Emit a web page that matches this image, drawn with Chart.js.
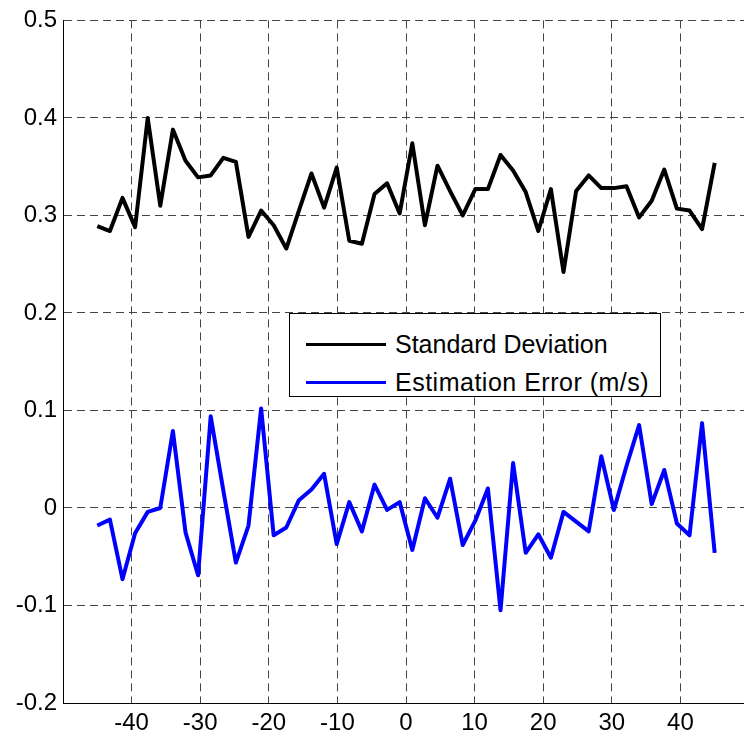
<!DOCTYPE html>
<html><head><meta charset="utf-8">
<script src="https://cdn.jsdelivr.net/npm/chart.js@4/dist/chart.umd.min.js"></script>
<style>
html,body{margin:0;padding:0;overflow:hidden;background:#fff;width:744px;height:740px}
#wrap{position:relative;width:752px;height:740px}
#legend{position:absolute;left:289px;top:313px;width:370px;height:82px;border:1px solid #000;background:#fff;font-family:"Liberation Sans",Arial,sans-serif;font-size:25px;color:#000}
.row{position:absolute;left:0;height:30px;display:flex;align-items:center;white-space:nowrap}
.sw{display:inline-block;width:80px;height:3px;margin-left:16px;margin-right:9px}
</style></head><body>
<div id="wrap"><canvas id="c" width="752" height="740"></canvas><div id="legend"></div></div>
<script>
const xValues = [-45.00,-43.16,-41.33,-39.49,-37.65,-35.82,-33.98,-32.14,-30.31,-28.47,-26.63,-24.80,-22.96,-21.12,-19.29,-17.45,-15.61,-13.78,-11.94,-10.10,-8.27,-6.43,-4.59,-2.76,-0.92,0.92,2.76,4.59,6.43,8.27,10.10,11.94,13.78,15.61,17.45,19.29,21.12,22.96,24.80,26.63,28.47,30.31,32.14,33.98,35.82,37.65,39.49,41.33,43.16,45.00];
const stdDev = [0.289,0.284,0.318,0.288,0.400,0.310,0.388,0.356,0.339,0.341,0.359,0.355,0.278,0.305,0.290,0.266,0.305,0.343,0.308,0.349,0.274,0.271,0.322,0.333,0.302,0.374,0.290,0.351,0.325,0.300,0.327,0.327,0.362,0.346,0.324,0.284,0.327,0.242,0.325,0.341,0.328,0.328,0.330,0.298,0.315,0.347,0.307,0.305,0.286,0.354];
const estError = [-0.018,-0.012,-0.073,-0.026,-0.004,0.000,0.079,-0.025,-0.069,0.094,0.018,-0.056,-0.018,0.102,-0.028,-0.020,0.008,0.019,0.035,-0.037,0.006,-0.024,0.024,-0.002,0.006,-0.043,0.010,-0.010,0.030,-0.038,-0.013,0.020,-0.105,0.046,-0.046,-0.027,-0.051,-0.004,-0.014,-0.024,0.053,-0.002,0.043,0.085,0.004,0.039,-0.016,-0.028,0.087,-0.046];
const seriesNames = ['Standard Deviation','Estimation Error (m/s)'];
const seriesColors = ['#000000','#0000ff'];
const xTicks = [-40,-30,-20,-10,0,10,20,30,40];
const yTicks = [-0.2,-0.1,0,0.1,0.2,0.3,0.4,0.5];
const yTickLabels = ['-0.2','-0.1','0','0.1','0.2','0.3','0.4','0.5'];

const toPts = arr => arr.map((v,i)=>({x:xValues[i], y:v}));
const FONT = {family:'"Liberation Sans", Arial, sans-serif', size:24};

new Chart(document.getElementById('c'), {
  type:'line',
  data:{datasets:[
    {label:seriesNames[0], data:toPts(stdDev), borderColor:seriesColors[0], borderWidth:4, borderJoinStyle:'round', pointRadius:0, tension:0, fill:false},
    {label:seriesNames[1], data:toPts(estError), borderColor:seriesColors[1], borderWidth:4, borderJoinStyle:'round', pointRadius:0, tension:0, fill:false}
  ]},
  options:{
    responsive:false, animation:false, devicePixelRatio:1,
    layout:{padding:{top:17,right:3,bottom:0,left:0}},
    plugins:{legend:{display:false}, tooltip:{enabled:false}},
    scales:{
      x:{type:'linear', min:-50, max:50,
        afterBuildTicks:s=>{s.ticks = xTicks.map(v=>({value:v}));},
        afterFit:s=>{s.height=37;},
        grid:{color:'#444', lineWidth:1, drawTicks:false},
        border:{display:true, color:'#000', width:1, dash:[8,5]},
        ticks:{font:FONT, color:'#000', padding:6, maxRotation:0, autoSkip:false}
      },
      y:{min:-0.2, max:0.5,
        afterBuildTicks:s=>{s.ticks = yTicks.map(v=>({value:v}));},
        afterFit:s=>{s.width=63;},
        grid:{color:'#444', lineWidth:1, drawTicks:false},
        border:{display:true, color:'#000', width:1, dash:[8,5]},
        ticks:{font:FONT, color:'#000', padding:6, autoSkip:false, callback:(v,i)=>yTickLabels[i]}
      }
    }
  }
});

const lg = document.getElementById('legend');
const tops = [15,53];
const spacing = ['0px','0.5px'];
seriesNames.forEach((n,i)=>{
  const r = document.createElement('div'); r.className='row'; r.style.top=tops[i]+'px';
  const sw = document.createElement('span'); sw.className='sw'; sw.style.background=seriesColors[i];
  const t = document.createElement('span'); t.textContent=n; t.style.letterSpacing=spacing[i];
  r.appendChild(sw); r.appendChild(t); lg.appendChild(r);
});
</script>
</body></html>
